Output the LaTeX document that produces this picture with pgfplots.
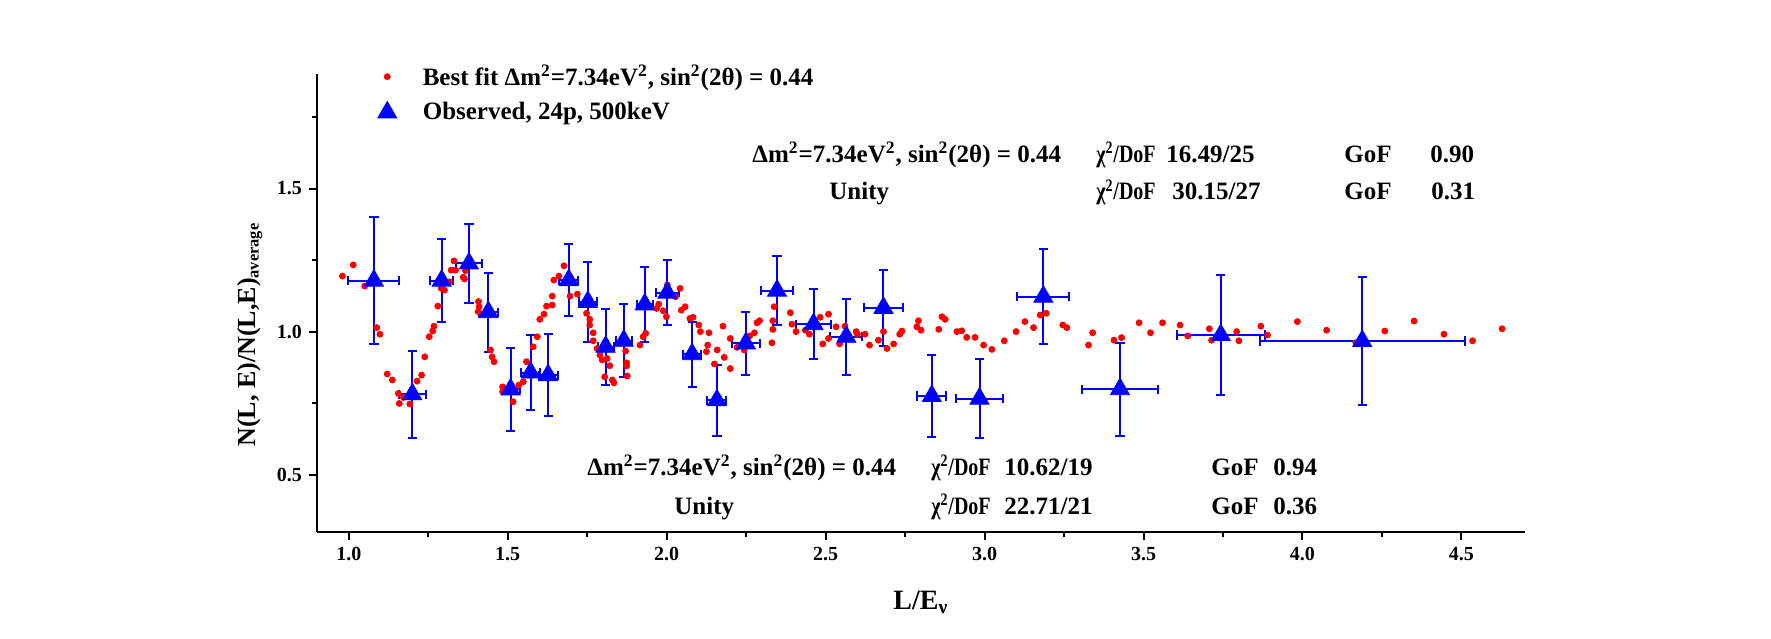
\documentclass[border=0pt]{standalone}
\usepackage{fontspec}
\setmainfont{Liberation Serif}
\usepackage{pgfplots}
\usepackage{pgfplotstable}
\pgfplotsset{compat=1.18}
\newcommand{\tf}{\fontsize{12.5}{15}\selectfont\bfseries}
\newcommand{\lf}{\fontsize{14}{17}\selectfont\bfseries}
\newcommand{\yf}{\fontsize{13}{16}\selectfont\bfseries}
\newcommand{\sq}{\textsuperscript{2}}
\newcommand{\chidof}{\scalebox{0.8}[1]{χ\sq/DoF}}
\pgfplotstableread{
x y
0.980 1.194
1.014 1.233
1.050 1.159
1.088 1.014
1.098 0.991
1.121 0.852
1.137 0.831
1.156 0.784
1.159 0.749
1.172 0.770
1.192 0.747
1.215 0.827
1.229 0.848
1.239 0.912
1.253 0.982
1.264 1.002
1.268 1.019
1.280 1.089
1.291 1.151
1.301 1.145
1.317 1.174
1.322 1.215
1.331 1.247
1.336 1.215
1.360 1.190
1.364 1.184
1.367 1.213
1.407 1.070
1.408 1.105
1.410 1.087
1.446 0.936
1.451 0.912
1.457 0.895
1.484 0.807
1.484 0.790
1.517 0.755
1.535 0.813
1.549 0.825
1.559 0.895
1.580 0.947
1.593 0.982
1.601 1.043
1.614 1.061
1.622 1.089
1.640 1.093
1.640 1.124
1.645 1.180
1.661 1.194
1.677 1.230
1.696 1.124
1.719 1.131
1.740 1.099
1.748 1.064
1.758 1.043
1.758 1.023
1.769 0.996
1.769 0.968
1.781 0.941
1.790 0.918
1.797 0.901
1.805 0.842
1.813 0.906
1.821 0.881
1.829 0.831
1.834 0.821
1.871 0.932
1.874 0.891
1.874 0.880
1.876 0.845
1.916 0.953
1.926 0.982
1.934 0.994
1.968 1.081
1.975 1.096
1.989 1.073
1.999 1.052
2.002 1.163
2.028 1.122
2.042 1.151
2.046 1.075
2.058 1.087
2.073 1.046
2.083 1.050
2.101 1.023
2.106 1.000
2.125 0.930
2.129 0.953
2.133 0.996
2.150 0.887
2.159 0.936
2.177 1.019
2.181 0.910
2.200 0.976
2.200 0.871
2.221 0.945
2.244 0.936
2.261 0.985
2.276 0.996
2.284 1.031
2.292 1.038
2.331 0.961
2.334 1.008
2.334 1.038
2.338 1.087
2.389 1.066
2.394 1.026
2.407 1.000
2.436 1.005
2.449 0.991
2.483 1.050
2.491 0.957
2.509 1.061
2.509 0.976
2.533 1.017
2.544 0.957
2.561 1.019
2.596 1.000
2.600 0.991
2.624 0.991
2.638 0.953
2.666 0.970
2.682 1.000
2.693 0.941
2.714 0.957
2.733 0.991
2.740 1.002
2.787 1.017
2.792 1.038
2.800 1.005
2.856 1.008
2.866 1.052
2.876 1.043
2.913 1.000
2.928 1.003
2.944 0.980
2.970 0.980
2.997 0.953
3.023 0.938
3.062 0.968
3.099 1.000
3.127 1.035
3.154 1.014
3.175 1.058
3.194 1.064
3.246 1.023
3.259 1.014
3.327 0.953
3.340 0.996
3.407 0.970
3.431 0.979
3.486 1.031
3.522 0.996
3.560 1.031
3.615 1.023
3.639 0.985
3.707 1.010
3.714 0.970
3.793 1.000
3.800 0.968
3.869 1.019
3.890 0.988
3.984 1.035
4.076 1.005
4.168 0.961
4.259 1.002
4.351 1.037
4.445 0.991
4.535 0.968
4.628 1.010
}\fitdata
\pgfplotstableread{
x y ex ey
1.079 1.178 0.080 0.222
1.200 0.781 0.043 0.151
1.292 1.178 0.037 0.145
1.378 1.238 0.040 0.138
1.439 1.068 0.030 0.138
1.509 0.798 0.028 0.144
1.572 0.857 0.030 0.131
1.627 0.848 0.030 0.143
1.692 1.180 0.030 0.127
1.752 1.104 0.028 0.140
1.808 0.947 0.025 0.133
1.865 0.968 0.025 0.128
1.931 1.095 0.025 0.130
2.002 1.136 0.037 0.114
2.080 0.921 0.029 0.113
2.158 0.760 0.030 0.123
2.249 0.959 0.043 0.110
2.347 1.143 0.050 0.121
2.462 1.026 0.055 0.122
2.565 0.982 0.050 0.132
2.682 1.083 0.060 0.132
2.834 0.775 0.046 0.143
2.984 0.766 0.075 0.138
3.185 1.122 0.082 0.166
3.426 0.799 0.120 0.162
3.743 0.988 0.138 0.210
4.188 0.967 0.322 0.224
}\obsdata
\begin{document}
\begin{tikzpicture}
\path[use as bounding box] (0,0) rectangle (885.5pt,319pt);
\begin{axis}[
  at={(158.5pt,53pt)}, anchor=south west,
  scale only axis, width=604pt, height=229pt,
  xmin=0.9, xmax=4.7, ymin=0.3, ymax=1.9,
  axis x line=bottom, axis y line=left,
  axis line style={-, line width=1pt},
  every outer x axis line/.append style={-},
  every outer y axis line/.append style={-},
  xtick={1,1.5,2,2.5,3,3.5,4,4.5},
  minor xtick={1.25,1.75,2.25,2.75,3.25,3.75,4.25},
  ytick={0.5,1,1.5},
  minor ytick={0.75,1.25,1.75},
  tick align=outside,
  major tick length=4pt, minor tick length=2.5pt,
  tick style={line width=1pt, black},
  /pgf/number format/assume math mode=true,
  xticklabel style={/pgf/number format/fixed, /pgf/number format/fixed zerofill, /pgf/number format/precision=1},
  yticklabel style={/pgf/number format/fixed, /pgf/number format/fixed zerofill, /pgf/number format/precision=1},
  tick label style={font=\fontsize{10}{12}\selectfont\bfseries},
  legend style={draw=none, fill=none, at={(axis description cs:0.045,1.038)}, anchor=north west,
    font=\tf, row sep=3pt, /tikz/every odd column/.append style={column sep=11pt}},
  legend cell align=left,
]
\addplot[only marks, mark=*, mark size=1.5pt, color=red] table[x=x,y=y] {\fitdata};
\addlegendentry{Best fit Δm\sq=7.34eV\sq, sin\sq(2θ) = 0.44}
\addplot[only marks, mark=triangle*, mark size=5.5pt, color=blue,
  error bars/.cd, x dir=both, x explicit, y dir=both, y explicit,
  error bar style={line width=1pt, blue},
  error mark options={rotate=90, mark size=2.3pt, line width=1pt, blue}]
  table[x=x, y=y, x error=ex, y error=ey] {\obsdata};
\addlegendentry{Observed, 24p, 500keV}
\end{axis}
\begin{scope}[x=0.5pt, y=-0.5pt, shift={(0pt,319pt)}]
\node[anchor=base west, inner sep=0pt, font=\tf] at (752,162.5) {Δm\sq=7.34eV\sq, sin\sq(2θ) = 0.44};
\node[anchor=base west, inner sep=0pt, font=\tf] at (1096,162.5) {\chidof};
\node[anchor=base west, inner sep=0pt, font=\tf] at (1166,162.5) {16.49/25};
\node[anchor=base west, inner sep=0pt, font=\tf] at (1344,162.5) {GoF};
\node[anchor=base west, inner sep=0pt, font=\tf] at (1430,162.5) {0.90};
\node[anchor=base west, inner sep=0pt, font=\tf] at (829,200) {Unity};
\node[anchor=base west, inner sep=0pt, font=\tf] at (1096,200) {\chidof};
\node[anchor=base west, inner sep=0pt, font=\tf] at (1172,200) {30.15/27};
\node[anchor=base west, inner sep=0pt, font=\tf] at (1344,200) {GoF};
\node[anchor=base west, inner sep=0pt, font=\tf] at (1431,200) {0.31};
\node[anchor=base west, inner sep=0pt, font=\tf] at (587,475) {Δm\sq=7.34eV\sq, sin\sq(2θ) = 0.44};
\node[anchor=base west, inner sep=0pt, font=\tf] at (931,475) {\chidof};
\node[anchor=base west, inner sep=0pt, font=\tf] at (1004,475) {10.62/19};
\node[anchor=base west, inner sep=0pt, font=\tf] at (1211,475) {GoF};
\node[anchor=base west, inner sep=0pt, font=\tf] at (1273,475) {0.94};
\node[anchor=base west, inner sep=0pt, font=\tf] at (674,514) {Unity};
\node[anchor=base west, inner sep=0pt, font=\tf] at (931,514) {\chidof};
\node[anchor=base west, inner sep=0pt, font=\tf] at (1004,514) {22.71/21};
\node[anchor=base west, inner sep=0pt, font=\tf] at (1211,514) {GoF};
\node[anchor=base west, inner sep=0pt, font=\tf] at (1273,514) {0.36};
\node[anchor=base west, inner sep=0pt, font=\yf, rotate=90] at (255,447) {N(L, E)/N(L,E)\raisebox{-0.3ex}{\fontsize{8.2}{10}\selectfont average}};
\node[anchor=base west, inner sep=0pt, font=\lf] at (893,609) {L/E\textsubscript{ν}};
\end{scope}
\end{tikzpicture}
\end{document}
